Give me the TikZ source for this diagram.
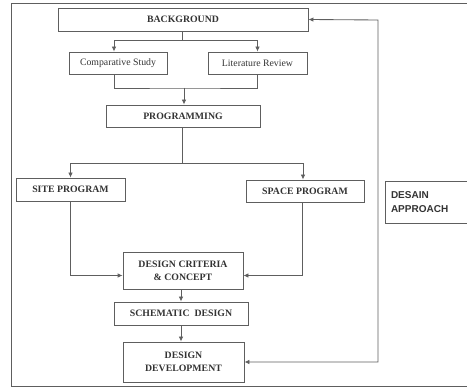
\documentclass[tikz,border=0pt]{standalone}
\usepackage{fontspec}
\setmainfont{Liberation Serif}
\newfontfamily\sansb{Liberation Sans}
\usetikzlibrary{arrows.meta,calc}
\definecolor{ln}{HTML}{5E5E5E}
\definecolor{tx}{HTML}{333333}
\tikzset{
  box/.style={draw=ln,line width=0.85pt,text=tx,inner sep=1pt,align=center,font=\fontsize{9.8}{11}\selectfont\bfseries},
  sbox/.style={box,font=\fontsize{9.8}{11}\selectfont},
  conn/.style={draw=ln,line width=0.85pt},
  tip/.tip={Latex[length=5pt,width=4.5pt]},
  arr/.style={conn,-tip}
}
\begin{document}
\begin{tikzpicture}[x=1pt,y=-1pt]
\useasboundingbox (0,0) rectangle (467,387);
% outer frame
\draw[conn] (480,3) -- (11,3) -- (11,386) -- (480,386);
% nodes
\node[box,minimum width=250pt,minimum height=23pt] (bg) at (183,19.5) {BACKGROUND};
\node[sbox,minimum width=98pt,minimum height=22pt] (cs) at (118,63) {Comparative Study};
\node[sbox,minimum width=99pt,minimum height=22pt] (lr) at (257.5,63) {Literature Review};
\node[box,minimum width=154pt,minimum height=22pt] (pg) at (183,116) {PROGRAMMING};
\node[box,minimum width=109pt,minimum height=23pt] (site) at (70.5,189.5) {SITE PROGRAM};
\node[box,minimum width=118pt,minimum height=22pt] (space) at (305,191) {SPACE PROGRAM};
\node[draw=ln,line width=0.85pt,minimum width=95pt,minimum height=42pt,text=tx,align=left,text width=83pt,inner sep=6pt,font=\sansb\fontsize{10}{14}\selectfont\bfseries] (da) at (432.5,202) {DESAIN\\APPROACH};
\node[box,minimum width=120pt,minimum height=37pt,font=\fontsize{9.8}{13}\selectfont\bfseries] (dc) at (183,270.5) {DESIGN CRITERIA\\\& CONCEPT};
\node[box,minimum width=134pt,minimum height=23pt] (sd) at (181,313.5) {SCHEMATIC\ \ DESIGN};
\node[box,minimum width=121pt,minimum height=40pt,font=\fontsize{9.8}{13}\selectfont\bfseries] (dd) at (183.5,362) {DESIGN\\DEVELOPMENT};
% coordinates
\coordinate (f1) at (182,40);
\coordinate (f2) at (184,88);
\coordinate (f3) at (182,163);
\coordinate (fb) at (378,20);
% connectors
\draw[conn] (bg.south -| f1) -- (f1);
\draw[arr] (f1) -| ([xshift=-4pt]cs.north);
\draw[arr] (f1) -| (lr.north);
\draw[conn] ([xshift=-4pt]cs.south) |- (f2) -| (lr.south);
\draw[arr] (f2) -- (pg.north -| f2);
\draw[conn] (pg.south -| f3) -- (f3);
\draw[arr] (f3) -| (site.north);
\draw[arr] (f3) -| ([xshift=-2pt]space.north);
\draw[arr] (site.south) |- ([yshift=-5pt]dc.west);
\draw[arr] ([xshift=-3pt]space.south) |- ([yshift=-5pt]dc.east);
\draw[arr] ([xshift=-2pt]dc.south) -- ([xshift=-2pt]dc.south |- sd.north);
\draw[arr] (sd.south) -- (sd.south |- dd.north);
\draw[conn,tip-tip] (dd.east) -| (fb) -- (bg.east);
\end{tikzpicture}
\end{document}
